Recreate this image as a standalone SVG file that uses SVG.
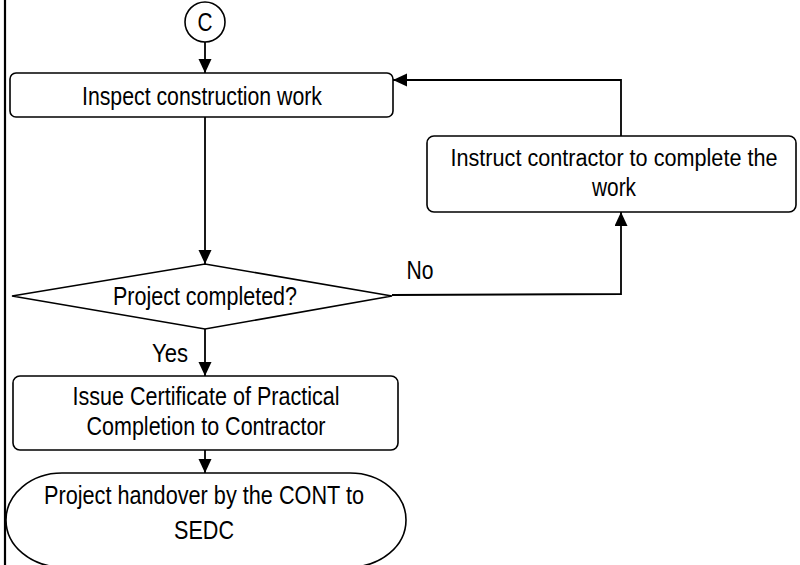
<svg xmlns="http://www.w3.org/2000/svg" width="800" height="565" viewBox="0 0 800 565">
<defs>
<marker id="ah" markerUnits="userSpaceOnUse" markerWidth="14" markerHeight="14" refX="14" refY="6.5" orient="auto">
<path d="M0,0 L14,6.5 L0,13 z" fill="#000"/>
</marker>
<style>
.n{fill:#fff;stroke:#000;stroke-width:1.6}
.t{font-family:"Liberation Sans",Arial,sans-serif;font-size:26px;fill:#000;text-anchor:middle}
.c{fill:none;stroke:#000;stroke-width:1.8}
</style>
</defs>
<rect width="800" height="565" fill="#fff"/>
<line x1="5" y1="0" x2="5" y2="565" stroke="#000" stroke-width="2.2"/>
<g id="connectors">
<path class="c" d="M205 42 L205 73" marker-end="url(#ah)"/>
<path class="c" d="M205 117 L205 264" marker-end="url(#ah)"/>
<path class="c" d="M392 295 L621 294 L621 212" marker-end="url(#ah)"/>
<path class="c" d="M621 136 L621 80 L393 80" marker-end="url(#ah)"/>
<path class="c" d="M205 329 L205 376" marker-end="url(#ah)"/>
<path class="c" d="M205 450 L205 473" marker-end="url(#ah)"/>
<text class="t" x="420" y="279" textLength="27" lengthAdjust="spacingAndGlyphs">No</text>
<text class="t" x="170" y="362" textLength="36" lengthAdjust="spacingAndGlyphs">Yes</text>
</g>
<g id="start">
<circle class="n" cx="205" cy="22" r="20"/>
<text class="t" x="205" y="31" textLength="15" lengthAdjust="spacingAndGlyphs">C</text>
</g>
<g id="inspect">
<rect class="n" x="10" y="73" width="383" height="44" rx="6"/>
<text class="t" x="202" y="105" textLength="240" lengthAdjust="spacingAndGlyphs">Inspect construction work</text>
</g>
<g id="instruct">
<rect class="n" x="427" y="136" width="369" height="76" rx="7"/>
<text class="t" x="614" y="166" style="font-size:23.5px" textLength="327" lengthAdjust="spacingAndGlyphs">Instruct contractor to complete the</text>
<text class="t" x="614" y="196" textLength="44" lengthAdjust="spacingAndGlyphs">work</text>
</g>
<g id="decision">
<polygon class="n" points="12,296 205,264 392,296 205,329"/>
<text class="t" x="205" y="305" textLength="184" lengthAdjust="spacingAndGlyphs">Project completed?</text>
</g>
<g id="issue">
<rect class="n" x="13" y="376" width="385" height="74" rx="7"/>
<text class="t" x="206" y="405" textLength="267" lengthAdjust="spacingAndGlyphs">Issue Certificate of Practical</text>
<text class="t" x="206" y="435" textLength="239" lengthAdjust="spacingAndGlyphs">Completion to Contractor</text>
</g>
<g id="handover">
<rect class="n" x="6" y="473" width="400" height="94" rx="56" ry="47"/>
<text class="t" x="204" y="504" textLength="320" lengthAdjust="spacingAndGlyphs">Project handover by the CONT to</text>
<text class="t" x="204" y="539" textLength="60" lengthAdjust="spacingAndGlyphs">SEDC</text>
</g>
</svg>
